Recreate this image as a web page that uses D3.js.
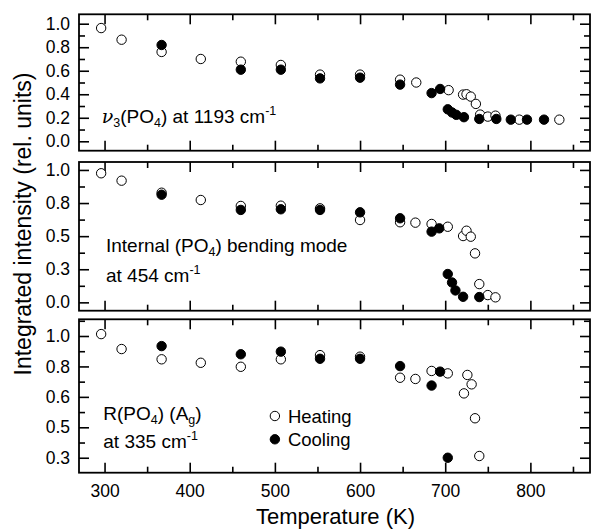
<!DOCTYPE html>
<html>
<head>
<meta charset="utf-8">
<script src="https://cdn.jsdelivr.net/npm/d3@7"></script>
<style>
  body { margin: 0; background: #fff; }
  text { font-family: "Liberation Sans", Arial, sans-serif; fill: #000; }
</style>
</head>
<body>
<div id="chart"></div>
<script>
// ---- data: [temperature K, integrated intensity] ----
const nu3Heating = [[296,0.963],[320,0.864],[367,0.76],[413,0.70],[460,0.677],[507,0.649],[553,0.567],[600,0.567],[647,0.524],[666,0.50],[704,0.435],[721,0.397],[725,0.40],[730,0.38],[736,0.318],[741,0.227],[750,0.21],[759,0.218],[787,0.184],[834,0.184]];
const nu3Cooling = [[367,0.819],[460,0.609],[507,0.609],[553,0.535],[600,0.541],[647,0.482],[684,0.41],[694,0.445],[703,0.272],[708,0.245],[713,0.225],[722,0.205],[740,0.19],[760,0.19],[777,0.184],[796,0.184],[816,0.184]];

const bendHeating = [[296,0.975],[320,0.919],[367,0.828],[413,0.773],[460,0.728],[507,0.73],[553,0.71],[600,0.622],[647,0.605],[665,0.602],[684,0.592],[703,0.571],[721,0.501],[725,0.541],[730,0.496],[735,0.37],[740,0.138],[750,0.055],[759,0.038]];
const bendCooling = [[367,0.813],[460,0.698],[507,0.703],[553,0.698],[600,0.68],[647,0.635],[684,0.534],[693,0.559],[703,0.214],[708,0.15],[712,0.09],[721,0.042],[740,0.04]];

const rotHeating = [[296,1.011],[320,0.925],[367,0.866],[413,0.846],[460,0.823],[507,0.866],[553,0.89],[600,0.881],[647,0.76],[665,0.753],[684,0.799],[703,0.785],[722,0.67],[726,0.776],[731,0.722],[735,0.527],[740,0.31]];
const rotCooling = [[367,0.942],[460,0.895],[507,0.91],[553,0.869],[600,0.869],[647,0.827],[684,0.715],[694,0.795],[703,0.3]];

// ---- ticks ----
const xTicks = [300, 400, 500, 600, 700, 800];
const xMinor = [350, 450, 550, 650, 750, 850];
const nu3Ticks = [0, 0.2, 0.4, 0.6, 0.8, 1.0];
const nu3Labels = ["0.0", "0.2", "0.4", "0.6", "0.8", "1.0"];
const nu3Minor = [0.1, 0.3, 0.5, 0.7, 0.9];
const bendTicks = [0, 0.25, 0.5, 0.75, 1.0];
const bendLabels = ["0.0", "0.3", "0.5", "0.8", "1.0"];
const bendMinor = [0.125, 0.375, 0.625, 0.875];
const rotTicks = [0.3, 0.475, 0.65, 0.825, 1.0];
const rotLabels = ["0.3", "0.5", "0.6", "0.8", "1.0"];
const rotMinor = [0.3875, 0.5625, 0.7375, 0.9125, 1.0875];

const width = 592, height = 530;
const left = 79, right = 590;

const svg = d3.select("#chart").append("svg")
  .attr("width", width)
  .attr("height", height);

const x = d3.scaleLinear().domain([270, 870]).range([left, right]);

const panels = [
  { top: 14.3, bottom: 150.7, domain: [-0.08, 1.08], ticks: nu3Ticks, labels: nu3Labels, minor: nu3Minor,
    heating: nu3Heating, cooling: nu3Cooling },
  { top: 162, bottom: 310.7, domain: [-0.063, 1.06], ticks: bendTicks, labels: bendLabels, minor: bendMinor,
    heating: bendHeating, cooling: bendCooling },
  { top: 319.3, bottom: 472.7, domain: [0.214, 1.096], ticks: rotTicks, labels: rotLabels, minor: rotMinor,
    heating: rotHeating, cooling: rotCooling }
];

const majorLen = 10, minorLen = 6;

panels.forEach((p, i) => {
  const y = d3.scaleLinear().domain(p.domain).range([p.bottom, p.top]);
  const g = svg.append("g");
  const isLast = i === panels.length - 1;

  // y axes (left labelled, right mirrored)
  g.append("g").attr("transform", `translate(${left},0)`)
    .call(d3.axisLeft(y).tickValues(p.ticks).tickSizeInner(-majorLen).tickSizeOuter(0).tickPadding(9)
      .tickFormat((d, k) => p.labels[k]));
  g.append("g").attr("transform", `translate(${left},0)`)
    .call(d3.axisLeft(y).tickValues(p.minor).tickSizeInner(-minorLen).tickSizeOuter(0).tickFormat(""));
  g.append("g").attr("transform", `translate(${right},0)`)
    .call(d3.axisRight(y).tickValues(p.ticks).tickSizeInner(-majorLen).tickSizeOuter(0).tickFormat(""));
  g.append("g").attr("transform", `translate(${right},0)`)
    .call(d3.axisRight(y).tickValues(p.minor).tickSizeInner(-minorLen).tickSizeOuter(0).tickFormat(""));

  // x axes (top and bottom, labels only on last panel)
  g.append("g").attr("transform", `translate(0,${p.top})`)
    .call(d3.axisTop(x).tickValues(xTicks).tickSizeInner(-majorLen).tickSizeOuter(0).tickFormat(""));
  g.append("g").attr("transform", `translate(0,${p.top})`)
    .call(d3.axisTop(x).tickValues(xMinor).tickSizeInner(-minorLen).tickSizeOuter(0).tickFormat(""));
  g.append("g").attr("transform", `translate(0,${p.bottom})`)
    .call(d3.axisBottom(x).tickValues(xTicks).tickSizeInner(-majorLen).tickSizeOuter(0).tickPadding(12)
      .tickFormat(isLast ? d3.format("d") : ""));
  g.append("g").attr("transform", `translate(0,${p.bottom})`)
    .call(d3.axisBottom(x).tickValues(xMinor).tickSizeInner(-minorLen).tickSizeOuter(0).tickFormat(""));

  g.selectAll(".domain").remove();
  g.selectAll(".tick line").attr("stroke", "#000").attr("stroke-width", 1.6);
  g.selectAll(".tick text").attr("font-size", 17.5).attr("fill", "#000")
    .style("font-family", '"Liberation Sans", Arial, sans-serif');

  // frame
  g.append("rect")
    .attr("x", left).attr("y", p.top)
    .attr("width", right - left).attr("height", p.bottom - p.top)
    .attr("fill", "none").attr("stroke", "#000").attr("stroke-width", 1.8);

  // markers: heating (open) below cooling (filled)
  g.selectAll(".heat").data(p.heating).join("circle")
    .attr("cx", d => x(d[0])).attr("cy", d => y(d[1])).attr("r", 4.7)
    .attr("fill", "#fff").attr("stroke", "#000").attr("stroke-width", 1);
  g.selectAll(".cool").data(p.cooling).join("circle")
    .attr("cx", d => x(d[0])).attr("cy", d => y(d[1])).attr("r", 4.7)
    .attr("fill", "#000").attr("stroke", "#000").attr("stroke-width", 1);
});

// annotation helper: parts [text, mode]
function label(xp, yp, parts) {
  const t = svg.append("text").attr("x", xp).attr("y", yp).attr("font-size", 19);
  parts.forEach(([s, mode]) => {
    const ts = t.append("tspan").text(s);
    if (mode === "sub") ts.attr("font-size", 12.5).attr("dy", 4);
    else if (mode === "sup") ts.attr("font-size", 12.5).attr("dy", -8);
    else if (mode === "greek") ts.attr("font-style", "italic").attr("font-family", "DejaVu Serif, serif");
    if (mode === "sub-end") ts.attr("dy", -4);
  });
  return t;
}

label(101.7, 123, [["ν", "greek"], ["3", "sub"], ["(PO", "sub-end"], ["4", "sub"], [") at 1193 cm", "sub-end"], ["-1", "sup"]]);
label(106, 251.7, [["Internal (PO", ""], ["4", "sub"], [") bending mode", "sub-end"]]);
label(106, 281.7, [["at 454 cm", ""], ["-1", "sup"]]);
label(103.3, 420, [["R(PO", ""], ["4", "sub"], [") (A", "sub-end"], ["g", "sub"], [")", "sub-end"]]);
label(103.3, 448.3, [["at 335 cm", ""], ["-1", "sup"]]);

// legend
const legendItems = [["Heating", "#fff"], ["Cooling", "#000"]];
const legendX = x(500), legendY = [416, 439.3];
legendItems.forEach(([name, fill], k) => {
  svg.append("circle").attr("cx", legendX).attr("cy", legendY[k]).attr("r", 4.7)
    .attr("fill", fill).attr("stroke", "#000").attr("stroke-width", 1);
  svg.append("text").attr("x", legendX + 13).attr("y", legendY[k] + 6.5)
    .attr("font-size", 18.5).text(name);
});

// axis titles
svg.append("text").attr("x", (left + right) / 2 + 1).attr("y", 524)
  .attr("text-anchor", "middle").attr("font-size", 22).text("Temperature (K)");
svg.append("text").attr("transform", `translate(31,224) rotate(-90)`)
  .attr("text-anchor", "middle").attr("font-size", 23).text("Integrated intensity (rel. units)");
</script>
</body>
</html>
